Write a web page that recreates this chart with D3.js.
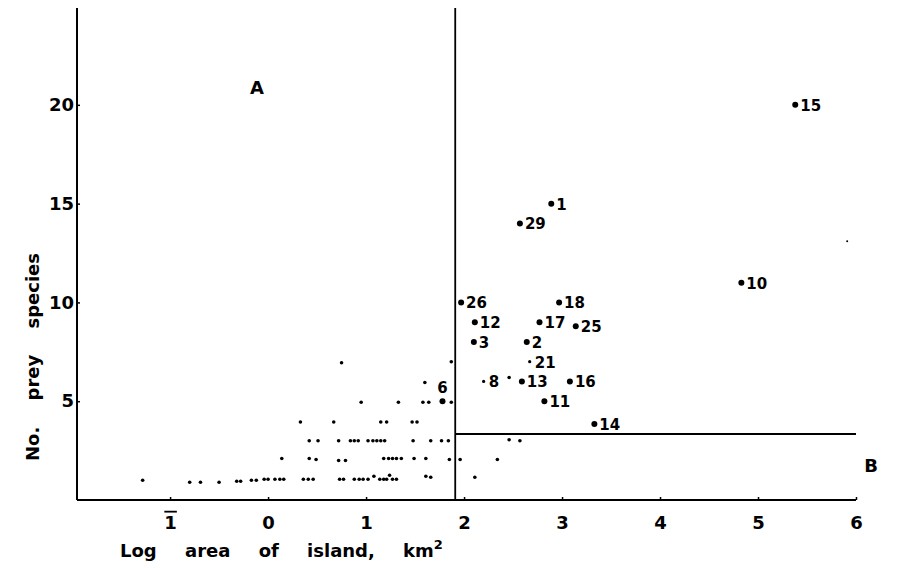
<!DOCTYPE html>
<meta charset='utf-8'>
<head>
<script src='https://d3js.org/d3.v7.min.js'></script>
  <style>
  body{
    margin: 0;
    background: #fff;
  }
  #chart text{
    font-family: 'DejaVu Sans', sans-serif;
    font-weight: bold;
    fill: #000;
  }
  </style>
</head>
<body>
  <svg id="chart"></svg>
  <script>

    // x ticks (log area) and y ticks (prey species)
    var xTickValues = [-1, 0, 1, 2, 3, 4, 5, 6];
    var yTickValues = [5, 10, 15, 20];

    // numbered islands
    var islandIds       = ['15', '1', '29', '10', '26', '18', '12', '17', '25', '3', '2', '21', '8', '13', '16', '11', '14', '6'];
    var islandLogArea   = [5.38, 2.89, 2.57, 4.83, 1.97, 2.97, 2.11, 2.77, 3.14, 2.10, 2.64, 2.67, 2.20, 2.59, 3.08, 2.82, 3.33, 1.78];
    var islandPrey      = [20, 15, 14, 11, 10, 10, 9, 9, 8.8, 8, 8, 7, 6, 6, 6, 5, 3.85, 5];

    // unnumbered islands
    var otherLogArea = [-1.28, -0.80, -0.69, -0.50, -0.32, -0.28, -0.17, -0.12, -0.04, 0.00, 0.07, 0.12, 0.16, 0.36, 0.41, 0.46,
                        0.73, 0.77, 0.88, 0.93, 0.97, 1.02, 1.08, 1.14, 1.18, 1.21, 1.24, 1.27, 1.31, 1.61, 1.66, 2.11,
                        0.14, 0.42, 0.49, 0.72, 0.79, 1.18, 1.23, 1.27, 1.31, 1.36, 1.49, 1.61, 1.85, 1.96, 2.34,
                        0.42, 0.51, 0.72, 0.84, 0.88, 0.92, 1.02, 1.07, 1.11, 1.15, 1.19, 1.48, 1.66, 1.77, 1.84, 2.46, 2.57,
                        0.33, 0.67, 1.15, 1.21, 1.47, 1.52,
                        0.95, 1.33, 1.58, 1.64, 1.87,
                        1.60, 2.46,
                        0.75, 1.87,
                        5.91];
    var otherPrey    = [1.0, 0.9, 0.9, 0.9, 0.95, 0.95, 1.0, 1.0, 1.05, 1.05, 1.05, 1.05, 1.05, 1.05, 1.05, 1.05,
                        1.05, 1.05, 1.05, 1.05, 1.05, 1.05, 1.2, 1.05, 1.05, 1.05, 1.25, 1.05, 1.05, 1.2, 1.15, 1.15,
                        2.1, 2.1, 2.05, 2.0, 2.0, 2.1, 2.1, 2.1, 2.1, 2.1, 2.1, 2.1, 2.05, 2.05, 2.05,
                        3.0, 3.0, 3.0, 3.0, 3.0, 3.0, 3.0, 3.0, 3.0, 3.0, 3.0, 3.0, 3.0, 3.0, 3.0, 3.05, 3.0,
                        3.95, 3.95, 3.95, 3.95, 3.95, 3.95,
                        4.95, 4.95, 4.95, 4.95, 4.95,
                        5.95, 6.2,
                        6.95, 7.0,
                        13.1];

    // boundary lines between groups A and B
    var splitLogArea = 1.91;
    var splitPrey = 3.34;

    var width = 905,
        height = 568;

    var svg = d3.select('#chart')
                .attr('width', width)
                .attr('height', height);

    var x = d3.scaleLinear()
        .domain([-1.95, 6])
        .range([77, 856]);

    var y = d3.scaleLinear()
        .domain([0, 24.8])
        .range([500, 10]);

    var islands = islandIds.map(function(d, i) {
      return {id: d, x: islandLogArea[i], y: islandPrey[i]};
    });
    var others = otherLogArea.map(function(d, i) {
      return {x: d, y: otherPrey[i]};
    });

    // x axis
    var xAxis = svg.append('g')
        .attr('transform', 'translate(0,' + y(0) + ')')
        .call(d3.axisBottom(x).tickValues(xTickValues).tickSize(-3).tickFormat(function(d) { return Math.abs(d); }));
    xAxis.select('.domain').attr('stroke-width', 2).attr('d', 'M' + x.range()[0] + ',0H' + x.range()[1]);
    xAxis.selectAll('.tick line').attr('stroke-width', 1.5);
    xAxis.selectAll('.tick text')
        .attr('y', 16)
        .style('font-size', '18px')
        .attr('text-decoration', function(d) { return d < 0 ? 'overline' : null; });

    // y axis
    var yAxis = svg.append('g')
        .attr('transform', 'translate(' + x.range()[0] + ',0)')
        .call(d3.axisLeft(y).tickValues(yTickValues).tickSize(-3));
    yAxis.select('.domain').attr('stroke-width', 2).attr('d', 'M0,' + y(0) + 'V8');
    yAxis.selectAll('.tick line').attr('stroke-width', 1.5);
    yAxis.selectAll('.tick text')
        .attr('x', -3)
        .style('font-size', '18px');

    // axis titles
    svg.append('text')
        .attr('x', 120)
        .attr('y', 557)
        .attr('word-spacing', '22px')
        .style('font-size', '18px')
        .html('Log area of island, km<tspan dy="-8" font-size="13px">2</tspan>');

    svg.append('text')
        .attr('transform', 'translate(39,357) rotate(-90)')
        .attr('text-anchor', 'middle')
        .attr('word-spacing', '20px')
        .style('font-size', '18px')
        .text('No. prey species');

    // boundary lines
    svg.append('line')
        .attr('x1', x(splitLogArea)).attr('x2', x(splitLogArea))
        .attr('y1', 8).attr('y2', y(0))
        .attr('stroke', '#000').attr('stroke-width', 1.8);
    svg.append('line')
        .attr('x1', x(splitLogArea)).attr('x2', x(6))
        .attr('y1', y(splitPrey)).attr('y2', y(splitPrey))
        .attr('stroke', '#000').attr('stroke-width', 1.8);

    svg.append('text')
        .attr('x', 257).attr('y', 94)
        .attr('text-anchor', 'middle')
        .style('font-size', '18px')
        .text('A');
    svg.append('text')
        .attr('x', 871).attr('y', 472)
        .attr('text-anchor', 'middle')
        .style('font-size', '18px')
        .text('B');

    // unnumbered points
    svg.selectAll('.other')
        .data(others)
        .enter().append('circle')
        .attr('class', 'other')
        .attr('cx', function(d) { return x(d.x); })
        .attr('cy', function(d) { return y(d.y); })
        .attr('r', function(d) { return d.y > 10 ? 1 : 1.8; })
        .attr('fill', '#000');

    // numbered points
    var pts = svg.selectAll('.island')
        .data(islands)
        .enter().append('g')
        .attr('class', 'island')
        .attr('transform', function(d) { return 'translate(' + x(d.x) + ',' + y(d.y) + ')'; });

    pts.append('circle')
        .attr('r', function(d) { return (d.id === '21' || d.id === '8') ? 1.6 : 3; })
        .attr('fill', '#000');

    pts.append('text')
        .attr('x', function(d) { return d.id === '6' ? 0 : 5; })
        .attr('y', function(d) { return d.id === '6' ? -8 : 6; })
        .attr('text-anchor', function(d) { return d.id === '6' ? 'middle' : 'start'; })
        .style('font-size', '15px')
        .text(function(d) { return d.id; });

  </script>
</body>
</html>
